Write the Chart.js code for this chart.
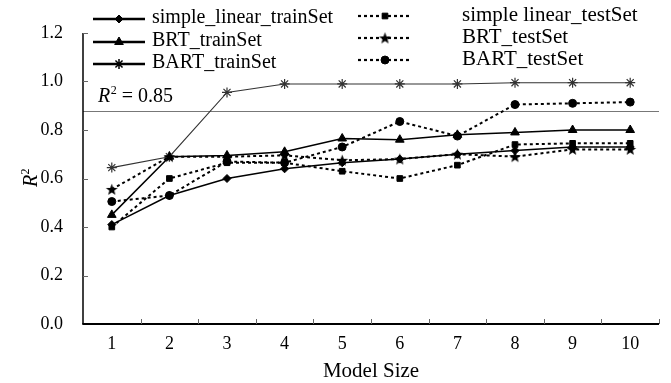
<!DOCTYPE html>
<html>
<head>
<meta charset="utf-8">
<script src="https://cdn.jsdelivr.net/npm/chart.js@4/dist/chart.umd.min.js"></script>
<style>
html,body{margin:0;padding:0;background:#fff;}
#wrap{position:relative;width:671px;height:383px;}
</style>
</head>
<body>
<div id="wrap"><canvas id="c" width="671" height="383"></canvas></div>
<script>
// ---- data ----
const categories = ['1','2','3','4','5','6','7','8','9','10'];
const simpleLinearTrain = [0.41, 0.53, 0.60, 0.64, 0.665, 0.68, 0.70, 0.715, 0.73, 0.73];
const brtTrain          = [0.45, 0.69, 0.695, 0.71, 0.765, 0.76, 0.78, 0.79, 0.80, 0.80];
const bartTrain         = [0.645, 0.69, 0.955, 0.99, 0.99, 0.99, 0.99, 0.995, 0.995, 0.995];
const simpleLinearTest  = [0.40, 0.60, 0.665, 0.665, 0.63, 0.60, 0.655, 0.74, 0.745, 0.745];
const brtTest           = [0.555, 0.69, 0.69, 0.695, 0.675, 0.68, 0.70, 0.69, 0.72, 0.72];
const bartTest          = [0.505, 0.53, 0.67, 0.665, 0.73, 0.835, 0.775, 0.905, 0.91, 0.915];
const seriesNames = ['simple_linear_trainSet','BRT_trainSet','BART_trainSet','simple linear_testSet','BRT_testSet','BART_testSet'];
const yTicks = [0, 0.2, 0.4, 0.6, 0.8, 1.0, 1.2];
const thresholdValue = 0.88;
const thresholdLabel = ' = 0.85';

const SERIF = '"Liberation Serif", "Times New Roman", serif';

const starImg = (() => {
  const c = document.createElement('canvas'); c.width = 13; c.height = 13;
  const g = c.getContext('2d'); g.fillStyle = '#000'; g.beginPath();
  for (let i = 0; i < 10; i++) {
    const r = i % 2 ? 2.6 : 6.2; const a = -Math.PI/2 + i*Math.PI/5;
    g.lineTo(6.5 + r*Math.cos(a), 7 + r*Math.sin(a));
  }
  g.closePath(); g.fill(); return c;
})();

const styles = [
  {pointStyle:'rectRot', radius:4, dash:[], width:1.5, color:'#000'},
  {pointStyle:'triangle', radius:5, dash:[], width:1.5, color:'#000'},
  {pointStyle:'star', radius:5, dash:[], width:1.1, color:'#333'},
  {pointStyle:'rect', radius:4, dash:[3,3], width:2, color:'#000'},
  {pointStyle:starImg, radius:6, dash:[3,3], width:2, color:'#000'},
  {pointStyle:'circle', radius:4, dash:[3,3], width:2, color:'#000'}
];
const seriesData = [simpleLinearTrain, brtTrain, bartTrain, simpleLinearTest, brtTest, bartTest];

const datasets = seriesData.map((d, i) => ({
  label: seriesNames[i],
  data: d,
  borderColor: styles[i].color,
  backgroundColor: styles[i].color,
  borderWidth: styles[i].width,
  borderDash: styles[i].dash,
  pointStyle: styles[i].pointStyle,
  pointRadius: styles[i].radius,
  pointBorderWidth: styles[i].pointStyle === 'star' ? 1.2 : 1,
  pointBorderColor: styles[i].color,
  pointBackgroundColor: styles[i].color,
  tension: 0,
  order: 6 - i
}));

const decor = {
  id: 'decor',
  beforeDatasetsDraw(chart) {
    const ctx = chart.ctx, ca = chart.chartArea, ys = chart.scales.y;
    const ty = ys.getPixelForValue(thresholdValue);
    ctx.save();
    ctx.strokeStyle = '#777'; ctx.lineWidth = 1;
    ctx.beginPath(); ctx.moveTo(ca.left, Math.round(ty)+0.5); ctx.lineTo(ca.right, Math.round(ty)+0.5); ctx.stroke();
    ctx.restore();
  },
  afterDraw(chart) {
    const ctx = chart.ctx, ca = chart.chartArea, xs = chart.scales.x, ys = chart.scales.y;
    ctx.save();
    // axes
    ctx.strokeStyle = '#000';
    ctx.lineWidth = 1.5;
    ctx.beginPath(); ctx.moveTo(ca.left, ca.top); ctx.lineTo(ca.left, ca.bottom); ctx.stroke();
    ctx.lineWidth = 2.2;
    ctx.beginPath(); ctx.moveTo(ca.left - 0.7, ca.bottom); ctx.lineTo(ca.right, ca.bottom); ctx.stroke();
    // y ticks (inside)
    ctx.strokeStyle = '#666'; ctx.lineWidth = 1;
    yTicks.forEach(v => {
      if (v === 0) return;
      const y = Math.round(ys.getPixelForValue(v)) + 0.5;
      ctx.beginPath(); ctx.moveTo(ca.left, y); ctx.lineTo(ca.left + 5, y); ctx.stroke();
    });
    // x ticks (inside, between categories)
    const step = (ca.right - ca.left) / categories.length;
    for (let k = 1; k <= categories.length; k++) {
      const x = Math.round(ca.left + k*step) + 0.5;
      ctx.beginPath(); ctx.moveTo(x, ca.bottom); ctx.lineTo(x, ca.bottom - 5); ctx.stroke();
    }
    // x title
    ctx.fillStyle = '#000';
    ctx.font = '21px ' + SERIF; ctx.textAlign = 'center'; ctx.textBaseline = 'middle';
    ctx.fillText('Model Size', (ca.left + ca.right)/2, 371);
    // y title R^2 rotated
    ctx.save();
    ctx.translate(32, 178); ctx.rotate(-Math.PI/2);
    ctx.textAlign = 'left'; ctx.textBaseline = 'middle';
    ctx.font = 'italic 20px ' + SERIF;
    const rw = ctx.measureText('R').width;
    const sw = (() => { ctx.font = '12px ' + SERIF; return ctx.measureText('2').width; })();
    const tot = rw + sw;
    ctx.font = 'italic 20px ' + SERIF; ctx.fillText('R', -tot/2, 0);
    ctx.font = '12px ' + SERIF; ctx.fillText('2', -tot/2 + rw + 0.5, -6);
    ctx.restore();
    // threshold label
    ctx.textAlign = 'left'; ctx.textBaseline = 'middle';
    let lx = 98, ly = 97;
    ctx.font = 'italic 20px ' + SERIF; ctx.fillText('R', lx, ly); lx += ctx.measureText('R').width + 0.5;
    ctx.font = '12px ' + SERIF; ctx.fillText('2', lx, ly - 6); lx += ctx.measureText('2').width;
    ctx.font = '20px ' + SERIF; ctx.fillText(thresholdLabel, lx, ly);
    // legend
    const cols = [{x0:93, x1:145, tx:152, fs:20, ys:[19, 42, 64]}, {x0:358, x1:412, tx:462, fs:21, ys:[16, 38, 60]}];
    styles.forEach((s, i) => {
      const col = cols[i < 3 ? 0 : 1], y = col.ys[i % 3];
      ctx.strokeStyle = '#000'; ctx.fillStyle = '#000';
      ctx.lineWidth = i < 3 ? 2.5 : 2.2;
      ctx.setLineDash(i < 3 ? [] : [3, 3]);
      ctx.beginPath(); ctx.moveTo(col.x0, y); ctx.lineTo(col.x1, y); ctx.stroke();
      ctx.setLineDash([]);
      ctx.lineWidth = s.pointStyle === 'star' ? 1.5 : 1;
      Chart.helpers.drawPoint(ctx, {pointStyle: s.pointStyle, radius: s.radius, rotation: 0, borderWidth: ctx.lineWidth}, (col.x0 + col.x1)/2, y);
      ctx.font = col.fs + 'px ' + SERIF; ctx.fillStyle = '#000'; ctx.textBaseline = 'middle';
      ctx.fillText(seriesNames[i], col.tx, y - 1);
    });
    ctx.restore();
  }
};

new Chart(document.getElementById('c'), {
  type: 'line',
  data: { labels: categories, datasets },
  options: {
    responsive: false, animation: false,
    layout: { padding: { left: 0, right: 12, top: 33, bottom: 0 } },
    plugins: { legend: { display: false }, tooltip: { enabled: false } },
    scales: {
      x: {
        type: 'category', offset: true,
        grid: { display: false, offset: true },
        border: { display: false },
        ticks: { color: '#000', font: { family: SERIF, size: 18 }, padding: 1, maxRotation: 0, autoSkip: false },
        afterFit(s) { s.height = 59; }
      },
      y: {
        min: 0, max: 1.2,
        grid: { display: false },
        border: { display: false },
        afterBuildTicks(s) { s.ticks = yTicks.map(v => ({ value: v })); },
        ticks: { color: '#000', font: { family: SERIF, size: 18 }, padding: 12, callback: v => Number(v).toFixed(1) },
        afterFit(s) { s.width = 83; }
      }
    }
  },
  plugins: [decor]
});
</script>
</body>
</html>
